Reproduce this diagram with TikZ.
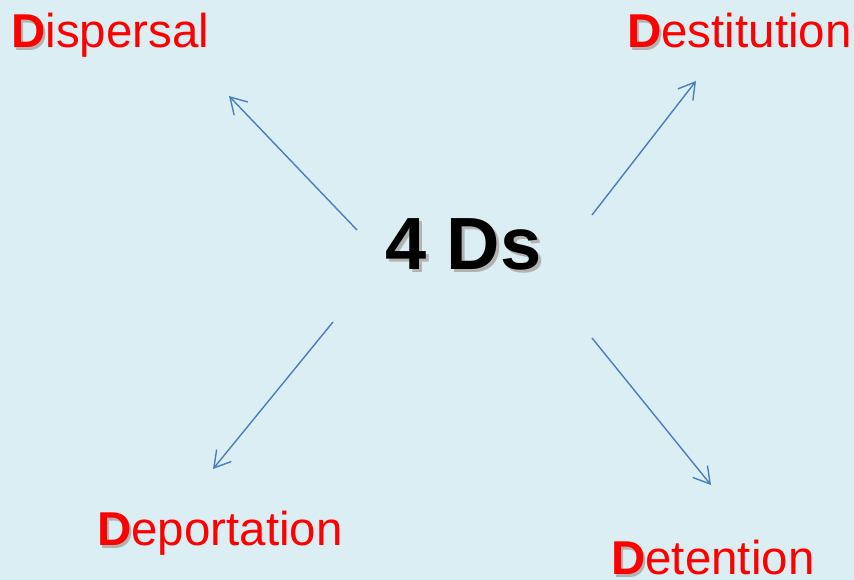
\documentclass[tikz,border=0pt]{standalone}
\usepackage{fontspec}
\setmainfont{Liberation Sans}
\usetikzlibrary{arrows.meta}
\definecolor{bgblue}{HTML}{DBEEF4}
\definecolor{arrblue}{HTML}{4A7EBB}
\definecolor{dred}{HTML}{FF0000}
\newcommand\shadowed[2][2pt]{\makebox[0pt][l]{\hspace*{#1}\raisebox{-#1}{\color{black!30}#2}}#2}
\newcommand\bigD{\shadowed[2.4pt]{\textbf{D}}}
\begin{document}
\begin{tikzpicture}[x=1pt,y=1pt,
  label/.style={font=\fontsize{47.5}{52}\selectfont, text=dred, inner sep=0pt, anchor=base west},
  title/.style={font=\fontsize{74}{80}\selectfont\bfseries, text=black, inner sep=0pt, anchor=base west},
  conn/.style={draw=arrblue, line width=1.4pt, -{Straight Barb[length=16pt,width=19pt,line width=1.4pt]}}]
\fill[bgblue] (0,0) rectangle (854,580);
\useasboundingbox (0,0) rectangle (854,580);
\node[title] (c) at (385,310) {\shadowed[3pt]{4 Ds}};
\node[label] (dis) at (11,532) {\bigD ispersal};
\node[label] (des) at (627,532) {\bigD estitution};
\node[label] (dep) at (97,34) {\bigD eportation};
\node[label] (det) at (611,5) {\bigD etention};
\coordinate (s1) at (357,350); \coordinate (e1) at (229,484);
\coordinate (s2) at (592,365); \coordinate (e2) at (696,499);
\coordinate (s3) at (333,258); \coordinate (e3) at (213,111);
\coordinate (s4) at (592,242); \coordinate (e4) at (711,95);
\draw[conn] (s1) -- (e1);
\draw[conn] (s2) -- (e2);
\draw[conn] (s3) -- (e3);
\draw[conn] (s4) -- (e4);
\end{tikzpicture}
\end{document}
